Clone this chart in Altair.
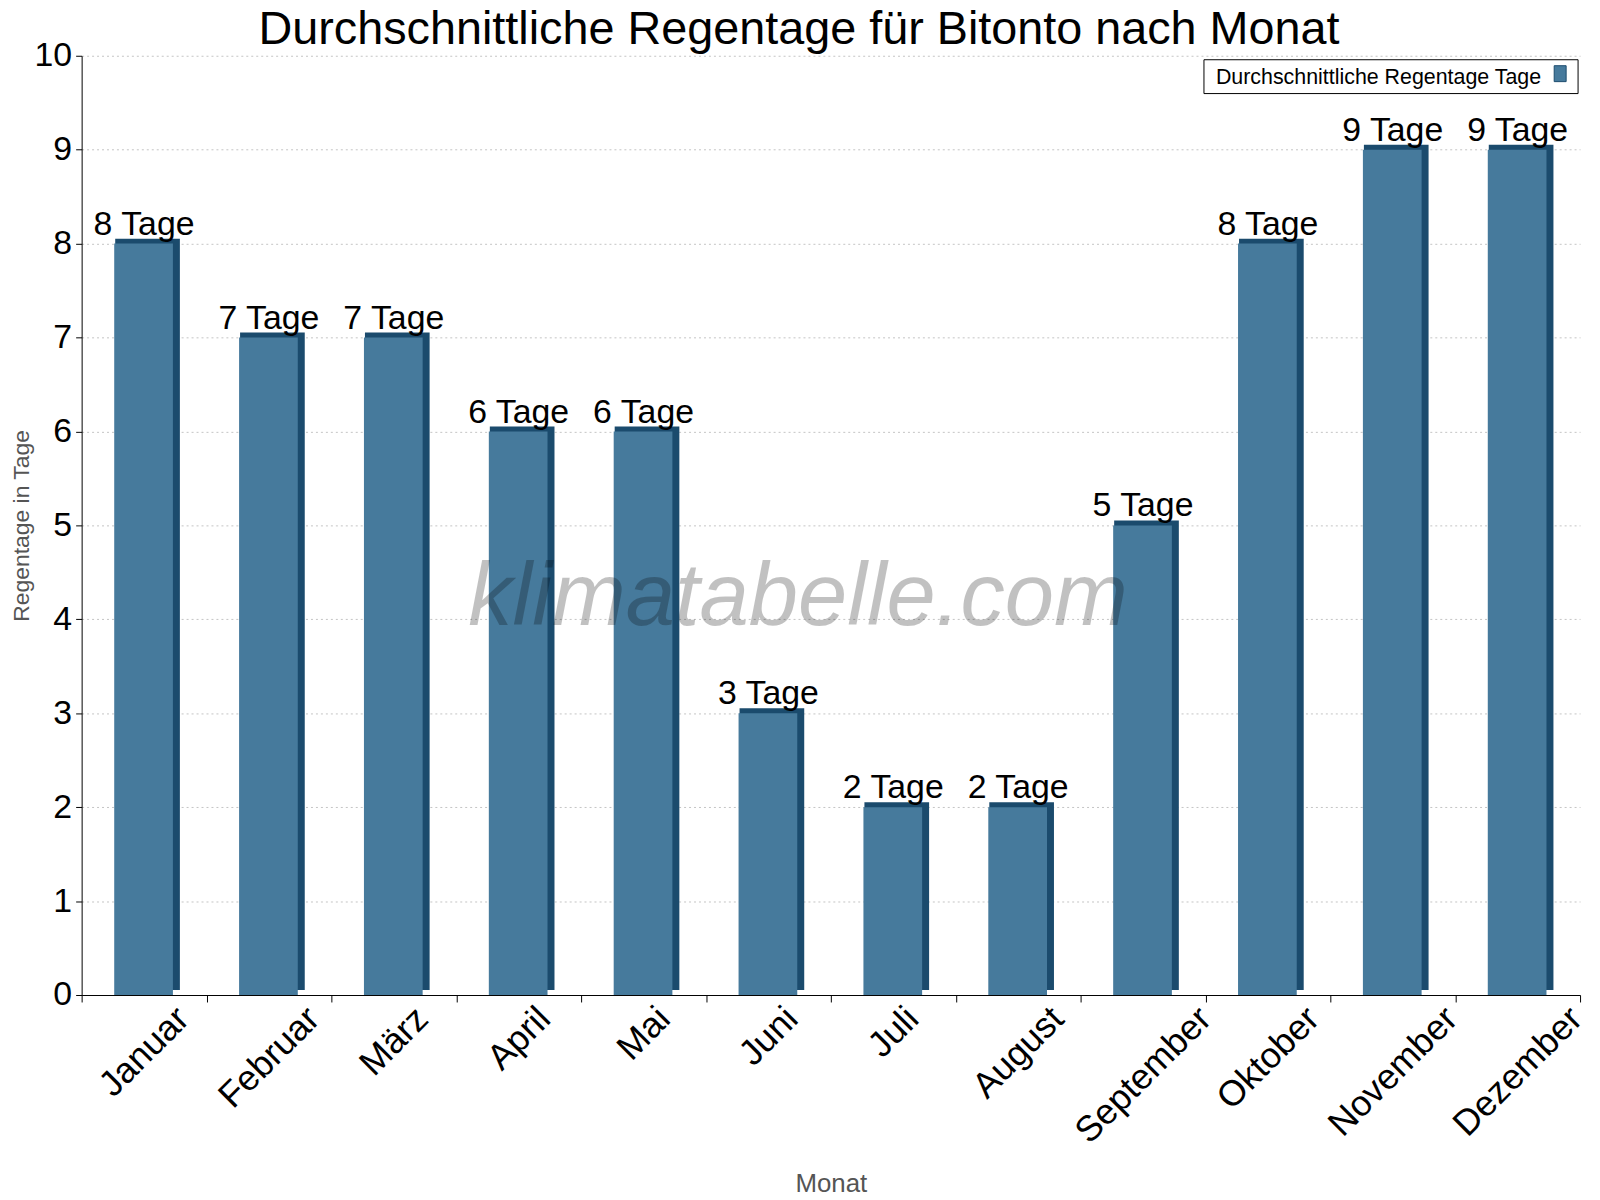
import altair as alt
import pandas as pd

# Durchschnittliche Regentage pro Monat (Bitonto)
months = ["Januar", "Februar", "März", "April", "Mai", "Juni", "Juli", "August",
          "September", "Oktober", "November", "Dezember"]
rain_days = [8, 7, 7, 6, 6, 3, 2, 2, 5, 8, 9, 9]
y_ticks = [0, 1, 2, 3, 4, 5, 6, 7, 8, 9, 10]

_FACE = "#467a9c"   # front face of the bars
_SIDE = "#1b4b6d"   # darker side / top for the 3D look
_INK = "#000000"
_GREY = "#555555"
_FONT = "Liberation Sans"
_XLAB = 36          # month label size

W, H = 1506, 944

# Arial advance widths (1/1000 em) – used to centre the rotated month labels
# on their band like the original does (Vega only anchors at a text end).
_ADV = {"a": 556, "ä": 556, "b": 556, "e": 556, "g": 556, "i": 222, "k": 500,
        "l": 222, "m": 833, "n": 556, "o": 556, "p": 556, "r": 333, "s": 500,
        "t": 278, "u": 556, "v": 500, "z": 500, "A": 667, "D": 722, "F": 611,
        "J": 500, "M": 833, "N": 722, "O": 778, "S": 667}


def _half_run(text):
    """Horizontal distance from a 45°-rotated label's centre to its end."""
    width = sum(_ADV.get(ch, 556) for ch in text) / 1000 * _XLAB
    return width / (2 * 2 ** 0.5)


shift = " : ".join(f"datum.label === '{m}' ? {_half_run(m):.1f}" for m in months) + " : 0"

df = pd.DataFrame({"monat": months, "tage": rain_days})
df["label"] = df["tage"].astype(str) + " Tage"

x_enc = alt.X(
    "monat:N", sort=months, title="Monat",
    scale=alt.Scale(paddingInner=0, paddingOuter=0),
    axis=alt.Axis(labelAngle=-45, labelAlign="right", labelBaseline="middle",
                  labelOffset={"expr": shift},
                  labelPadding=11, labelFontSize=_XLAB, labelColor=_INK,
                  labelFont=_FONT, tickBand="extent", tickSize=7, tickColor=_INK,
                  domainColor=_INK, grid=False, titleFont=_FONT, titleFontSize=26,
                  titleFontWeight="normal", titleColor=_GREY, titleY=197,
                  titleBaseline="alphabetic"),
)
y_enc = alt.Y(
    "tage:Q", title="Regentage in Tage",
    scale=alt.Scale(domain=[0, 10], nice=False),
    axis=alt.Axis(values=y_ticks, labelFontSize=34, labelColor=_INK, labelFont=_FONT,
                  labelPadding=4, tickSize=6, tickColor=_INK, domainColor=_INK,
                  gridColor="#c4c4c4", gridDash=[2, 3], gridWidth=1,
                  titleFont=_FONT, titleFontSize=23, titleFontWeight="normal",
                  titleColor=_GREY, titlePadding=1),
)

base = alt.Chart(df)

# dark block behind the face gives the right side and top edge
side = base.mark_bar(color=_SIDE, width=65, xOffset=3.5, yOffset=-5).encode(x=x_enc, y=y_enc)
face = base.mark_bar(color=_FACE, width=59, xOffset=-0.5).encode(x=x_enc, y=y_enc)
labels = base.mark_text(font=_FONT, fontSize=34, color=_INK, baseline="alphabetic",
                        dy=-9).encode(x=x_enc, y=y_enc, text="label:N")

one = alt.Data(values=[{}])
watermark = alt.Chart(one).mark_text(
    font=_FONT, fontSize=89, fontStyle="italic", color=_INK, opacity=0.24,
    align="center", baseline="alphabetic",
).encode(x=alt.value(720), y=alt.value(572), text=alt.value("klimatabelle.com"))

legend_box = alt.Chart(one).mark_rect(fill="white", stroke=_INK, strokeWidth=1).encode(
    x=alt.value(1128), x2=alt.value(1504), y=alt.value(4), y2=alt.value(38))
legend_text = alt.Chart(one).mark_text(
    font=_FONT, fontSize=21.5, color=_INK, align="left", baseline="alphabetic",
).encode(x=alt.value(1140), y=alt.value(28),
         text=alt.value("Durchschnittliche Regentage Tage"))
legend_swatch = alt.Chart(one).mark_rect(fill=_FACE, stroke=_SIDE, strokeWidth=1).encode(
    x=alt.value(1480), x2=alt.value(1492), y=alt.value(10), y2=alt.value(26))

chart = alt.layer(side, face, labels, watermark, legend_box, legend_text, legend_swatch).properties(
    width=W, height=H,
    autosize=alt.AutoSizeParams(type="none"),
    padding={"left": 74, "top": 45, "right": 12, "bottom": 200},
    title=alt.Title("Durchschnittliche Regentage für Bitonto nach Monat",
                    font=_FONT, fontSize=47, fontWeight="normal", color=_INK,
                    anchor="middle", dx=-32, dy=21, offset=6),
).configure_view(stroke=None)

chart.save("out.html", embed_options={"renderer": "svg", "actions": False})
